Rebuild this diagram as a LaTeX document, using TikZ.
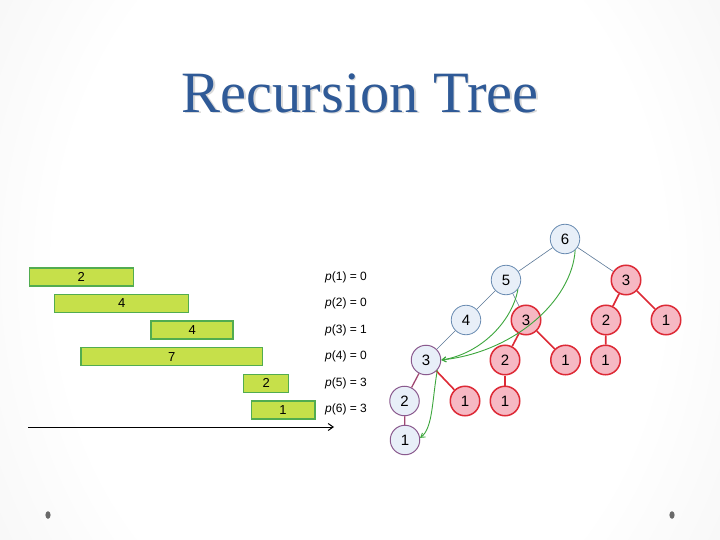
\documentclass[tikz,border=0pt]{standalone}
\usepackage{fontspec}
\setmainfont{Liberation Serif}
\newfontfamily\arialf{Liberation Sans}
\usetikzlibrary{arrows.meta}
\definecolor{titleblue}{HTML}{2F5A97}
\definecolor{barfill}{HTML}{C6E04A}
\definecolor{barline}{HTML}{52AC50}
\definecolor{bfill}{HTML}{E8EFF8}
\definecolor{bline}{HTML}{6A8CB2}
\definecolor{pline}{HTML}{8A5A8E}
\definecolor{rfill}{HTML}{F6B8C3}
\definecolor{rline}{HTML}{DD2A36}
\definecolor{gline}{HTML}{3CA63C}
\definecolor{dotgray}{HTML}{6A6A6A}
\pgfdeclareradialshading{bgshade}{\pgfpoint{0bp}{0bp}}{color(0bp)=(white); color(21bp)=(white); color(50bp)=(black!10); color(58bp)=(black!17); color(70bp)=(black!19)}
\tikzset{
  barbox/.style={draw=barline, fill=barfill, line width=1.5pt, inner sep=0pt, minimum height=18pt, font=\arialf\fontsize{13}{13}\selectfont},
  plabel/.style={anchor=west, inner sep=0pt, font=\arialf\fontsize{12}{12}\selectfont},
  bnode/.style={circle, draw=bline, fill=bfill, line width=0.8pt, minimum size=29.5pt, inner sep=0pt, font=\arialf\fontsize{15}{15}\selectfont},
  pnode/.style={bnode, draw=pline, line width=1pt},
  rnode/.style={circle, draw=rline, fill=rfill, line width=1.5pt, minimum size=29.5pt, inner sep=0pt, font=\arialf\fontsize{15}{15}\selectfont},
  bedge/.style={draw=bline!85!black, line width=0.6pt},
  redge/.style={draw=rline, line width=1.6pt},
  pedge/.style={draw=pline!80!red, line width=1.3pt},
  garrow/.style={draw=gline, line width=0.9pt, -{Straight Barb[length=4pt,width=5pt]}}
}
\begin{document}
\begin{tikzpicture}[x=1pt,y=-1pt]
\useasboundingbox (0,0) rectangle (720,540);
\begin{scope}
\clip (0,0) rectangle (720,540);
\shade[shading=bgshade] (0,-180) rectangle (720,720);
\end{scope}
\node[font=\fontsize{58.5}{58.5}\selectfont, text=black!15, inner sep=0pt] (titleshadow) at (361.5,94.5) {Recursion Tree};
\node[font=\fontsize{58.5}{58.5}\selectfont, text=titleblue, inner sep=0pt] (title) at (360,93) {Recursion Tree};

% bars
\node[barbox, minimum width=104pt] (b1) at (81.3,277.2) {2};
\node[barbox, minimum width=134pt] (b2) at (121.7,303.5) {4};
\node[barbox, minimum width=82pt] (b3) at (192.2,330.2) {4};
\node[barbox, minimum width=181.5pt] (b4) at (171.8,356.7) {7};
\node[barbox, minimum width=45pt] (b5) at (266.2,383.3) {2};
\node[barbox, minimum width=63.5pt] (b6) at (283,410) {1};
\coordinate (axs) at (28,427);
\coordinate (axe) at (334,427);
\draw[line width=1pt, -{Straight Barb[length=5pt,width=7pt]}] (axs) -- (axe);

% p labels
\node[plabel] (p1) at (325,277) {\textit{p}(1) = 0};
\node[plabel] (p2) at (325,303.5) {\textit{p}(2) = 0};
\node[plabel] (p3) at (325,330) {\textit{p}(3) = 1};
\node[plabel] (p4) at (325,356.5) {\textit{p}(4) = 0};
\node[plabel] (p5) at (325,383) {\textit{p}(5) = 3};
\node[plabel] (p6) at (325,409.5) {\textit{p}(6) = 3};

% tree nodes
\node[bnode] (n6) at (565,239) {6};
\node[bnode] (n5) at (506,280) {5};
\node[rnode] (r3a) at (626,280) {3};
\node[bnode] (n4) at (466,320) {4};
\node[rnode] (r3b) at (526,320) {3};
\node[rnode] (r2a) at (606,320) {2};
\node[rnode] (r1a) at (666,320) {1};
\node[pnode] (n3) at (426,360) {3};
\node[rnode] (r2b) at (505,360) {2};
\node[rnode] (r1b) at (565.5,360) {1};
\node[rnode] (r1c) at (605.5,360) {1};
\node[pnode] (n2) at (404.5,401) {2};
\node[rnode] (r1d) at (465,401) {1};
\node[rnode] (r1e) at (505,401) {1};
\node[pnode] (n1) at (405,440) {1};

% edges
\path[bedge] (n6) -- (n5);
\path[bedge] (n6) -- (r3a);
\path[bedge] (n5) -- (n4);
\path[bedge] (n5) -- (r3b);
\path[bedge] (n4) -- (n3);
\path[redge] (r3a) -- (r2a);
\path[redge] (r3a) -- (r1a);
\path[redge] (r2a) -- (r1c);
\path[redge] (r3b) -- (r2b);
\path[redge] (r3b) -- (r1b);
\path[redge] (r2b) -- (r1e);
\path[redge] (n3) -- (r1d);
\path[pedge] (n3) -- (n2);
\path[pedge] (n2) -- (n1);

% green arrows
\draw[garrow] (n6.-48) .. controls (572,300) and (515,352) .. (n3.east);
\draw[garrow] (n5.-38) .. controls (512,322) and (480,354) .. (n3.east);
\draw[garrow] (n3.-42) .. controls (432,400) and (433,428) .. (n1.8);

% dots
\fill[dotgray] (48,515) ellipse (2.6pt and 3.8pt);
\fill[dotgray] (672,515) ellipse (2.6pt and 3.8pt);
\end{tikzpicture}
\end{document}
